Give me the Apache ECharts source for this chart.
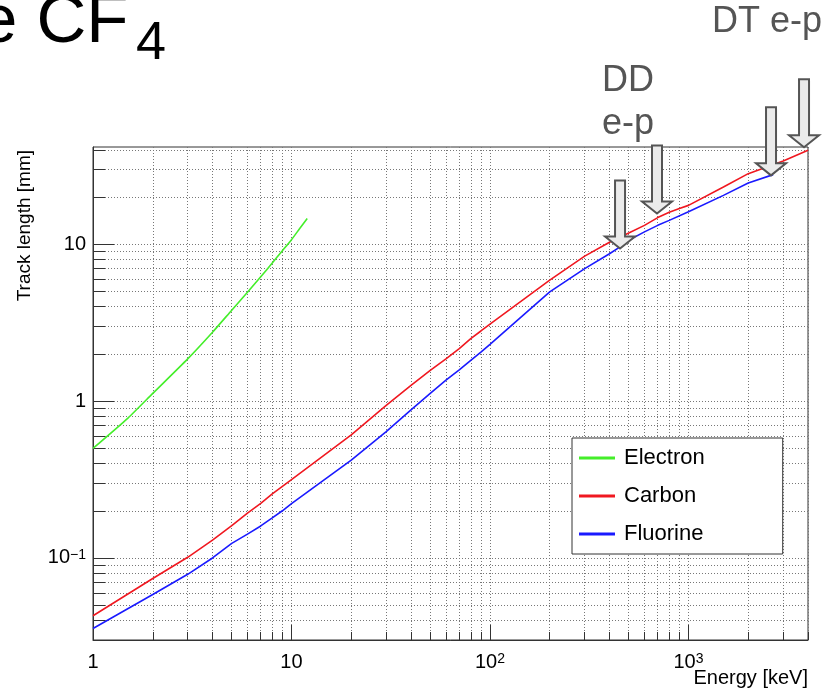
<!DOCTYPE html>
<html>
<head>
<meta charset="utf-8">
<script src="https://cdn.jsdelivr.net/npm/echarts@6/dist/echarts.min.js"></script>
<style>
  html, body { margin: 0; padding: 0; background: #fff; }
  #main { width: 828px; height: 696px; }
</style>
</head>
<body>
<div id="main"></div>
<script>
// track length vs energy in CF4
var energyElectron = [1, 1.5, 2, 3, 4, 5, 6, 7, 8, 9, 10, 11, 12];
var lengthElectron = [0.5, 0.78, 1.12, 1.86, 2.75, 3.8, 4.94, 6.2, 7.6, 9.1, 10.7, 12.6, 14.6];

var energyCarbon = [1, 2, 3, 4, 5, 6, 7, 8, 9, 10, 20, 30, 40, 50, 60, 70, 80, 90, 100,
  200, 300, 400, 500, 600, 700, 800, 900, 1000, 1500, 2000, 3000, 4000];
var lengthCarbon = [0.0428, 0.074, 0.101, 0.13, 0.161, 0.193, 0.223, 0.256, 0.286, 0.316,
  0.61, 0.94, 1.26, 1.57, 1.86, 2.16, 2.5, 2.8, 3.1,
  5.9, 8.4, 10.3, 11.8, 13.2, 14.8, 16.0, 16.9, 17.7, 23.2, 28.2, 33.9, 39.8];

var energyFluorine = [1, 2, 3, 4, 5, 6, 7, 8, 9, 10, 20, 30, 40, 50, 60, 70, 80, 90, 100,
  200, 300, 400, 450, 500, 600, 700, 800, 1000, 1500, 2000, 2670];
var lengthFluorine = [0.0355, 0.0585, 0.0787, 0.1, 0.124, 0.142, 0.16, 0.18, 0.2, 0.222,
  0.42, 0.64, 0.88, 1.12, 1.36, 1.58, 1.82, 2.05, 2.3,
  4.97, 7.0, 8.7, 9.6, 10.6, 12.0, 13.2, 14.2, 16.1, 20.5, 24.6, 27.8];

// axis ticks
var xMajor = [10, 100, 1000];
var xLabels = [1, 10, 100, 1000];
var xMinor = [1, 2, 3, 4, 5, 6, 7, 8, 9, 10, 20, 30, 40, 50, 60, 70, 80, 90,
  100, 200, 300, 400, 500, 600, 700, 800, 900, 1000, 2000, 3000, 4000];
var yMajor = [0.1, 1, 10];
var yMinor = [0.03, 0.04, 0.05, 0.06, 0.07, 0.08, 0.09, 0.1, 0.2, 0.3, 0.4, 0.5, 0.6, 0.7, 0.8, 0.9,
  1, 2, 3, 4, 5, 6, 7, 8, 9, 10, 20, 30, 40];

// arrows: [energy, track length] of the tip
var arrowTips = [[452, 9.4], [694, 15.7], [2605, 27.5], [3820, 41.5]];

var FONT = '"Liberation Sans", Arial, Helvetica, sans-serif';

function pairs(xs, ys) {
  return xs.map(function (x, i) { return [x, ys[i]]; });
}

function powLabel(v) {
  var p = Math.round(Math.log10(v));
  if (p === 0) return '1';
  if (p === 1) return '10';
  return '10{sup|' + (p < 0 ? '\u2212' + (-p) : p) + '}';
}

var labelRich = {
  sup: { fontSize: 14, fontFamily: FONT, color: '#000', verticalAlign: 'top', padding: [0, 0, 4, 0] }
};

var myChart = echarts.init(document.getElementById('main'));

var option = {
  animation: false,
  grid: {
    left: 93, right: 20, top: 147, bottom: 56,
    outerBoundsMode: 'none', containLabel: false,
    show: true, borderColor: '#333', borderWidth: 1, backgroundColor: 'transparent'
  },
  legend: {
    orient: 'vertical',
    left: 572, top: 438,
    padding: [9, 78, 9, 7],
    itemGap: 16,
    itemWidth: 36,
    itemHeight: 3,
    icon: 'rect',
    backgroundColor: '#fff',
    borderColor: '#333',
    borderWidth: 1,
    textStyle: { fontSize: 22, fontFamily: FONT, color: '#000', padding: [0, 0, 0, 4] },
    data: ['Electron', 'Carbon', 'Fluorine']
  },
  xAxis: [{
    type: 'log', logBase: 10, min: 1, max: 4000, position: 'bottom',
    axisLine: { show: true, onZero: false, lineStyle: { color: '#333', width: 1 } },
    axisTick: { show: true, inside: true, length: 8, customValues: xMinor, lineStyle: { color: '#333' } },
    axisLabel: {
      customValues: xLabels, formatter: powLabel, margin: 12,
      fontSize: 20, fontFamily: FONT, color: '#000', rich: labelRich
    },
    splitLine: { show: true, lineStyle: { color: '#777', type: [1, 2], width: 1 } }
  }, {
    type: 'log', logBase: 10, min: 1, max: 4000, position: 'bottom',
    axisLine: { show: false, onZero: false },
    axisTick: { show: true, inside: true, length: 15, customValues: xMajor, lineStyle: { color: '#333' } },
    axisLabel: { show: false },
    splitLine: { show: false }
  }],
  yAxis: [{
    type: 'log', logBase: 10, min: 0.03, max: 41.7, position: 'left',
    axisLine: { show: true, onZero: false, lineStyle: { color: '#333', width: 1 } },
    axisTick: { show: true, inside: true, length: 12, customValues: yMinor, lineStyle: { color: '#333' } },
    axisLabel: {
      customValues: yMajor, formatter: powLabel, margin: 7,
      fontSize: 20, fontFamily: FONT, color: '#000', rich: labelRich
    },
    splitLine: { show: true, lineStyle: { color: '#777', type: [1, 2], width: 1 } }
  }, {
    type: 'log', logBase: 10, min: 0.03, max: 41.7, position: 'left',
    axisLine: { show: false, onZero: false },
    axisTick: { show: true, inside: true, length: 21, customValues: yMajor, lineStyle: { color: '#333' } },
    axisLabel: { show: false },
    splitLine: { show: false }
  }],
  series: [{
    name: 'Electron', type: 'line', xAxisIndex: 0, yAxisIndex: 0,
    symbol: 'none', smooth: 0.2,
    lineStyle: { color: '#44ee2a', width: 1.6 }, itemStyle: { color: '#44ee2a' },
    data: pairs(energyElectron, lengthElectron)
  }, {
    name: 'Carbon', type: 'line', xAxisIndex: 0, yAxisIndex: 0,
    symbol: 'none',
    lineStyle: { color: '#f01820', width: 1.6 }, itemStyle: { color: '#f01820' },
    data: pairs(energyCarbon, lengthCarbon)
  }, {
    name: 'Fluorine', type: 'line', xAxisIndex: 0, yAxisIndex: 0,
    symbol: 'none',
    lineStyle: { color: '#1a1aff', width: 1.6 }, itemStyle: { color: '#1a1aff' },
    data: pairs(energyFluorine, lengthFluorine)
  }]
};
myChart.setOption(option);

// annotations: title, axis titles, labels and arrows pointing at the curves
var graphics = [
  { type: 'text', x: -21, y: 23, z: 100,
    style: { text: 'e CF', font: '69px ' + FONT, fill: '#000', verticalAlign: 'middle' } },
  { type: 'text', x: 136, y: 44, z: 100,
    style: { text: '4', font: '54px ' + FONT, fill: '#000', verticalAlign: 'middle' } },
  { type: 'text', x: 602, y: 81, z: 100,
    style: { text: 'DD', font: '36px ' + FONT, fill: '#555', verticalAlign: 'middle' } },
  { type: 'text', x: 602, y: 124, z: 100,
    style: { text: 'e-p', font: '36px ' + FONT, fill: '#555', verticalAlign: 'middle' } },
  { type: 'text', x: 712, y: 22, z: 100,
    style: { text: 'DT e-p', font: '36px ' + FONT, fill: '#555', verticalAlign: 'middle' } },
  { type: 'text', x: 25, y: 150, rotation: Math.PI / 2, z: 100,
    style: { text: 'Track length [mm]', font: '19px ' + FONT, fill: '#000', align: 'right', verticalAlign: 'middle' } },
  { type: 'text', x: 808, y: 678, z: 100,
    style: { text: 'Energy [keV]', font: '20px ' + FONT, fill: '#000', align: 'right', verticalAlign: 'middle' } }
];
arrowTips.forEach(function (t) {
  var p = myChart.convertToPixel({ gridIndex: 0 }, t);
  var tx = p[0], ty = p[1];
  graphics.push({
    type: 'polygon', z: 100,
    shape: { points: [
      [tx - 5, ty - 68], [tx + 5, ty - 68], [tx + 5, ty - 12], [tx + 15, ty - 12],
      [tx, ty], [tx - 15, ty - 12], [tx - 5, ty - 12]
    ] },
    style: { fill: '#ebebeb', stroke: '#555', lineWidth: 2 }
  });
});
myChart.setOption({ graphic: graphics });
</script>
</body>
</html>
